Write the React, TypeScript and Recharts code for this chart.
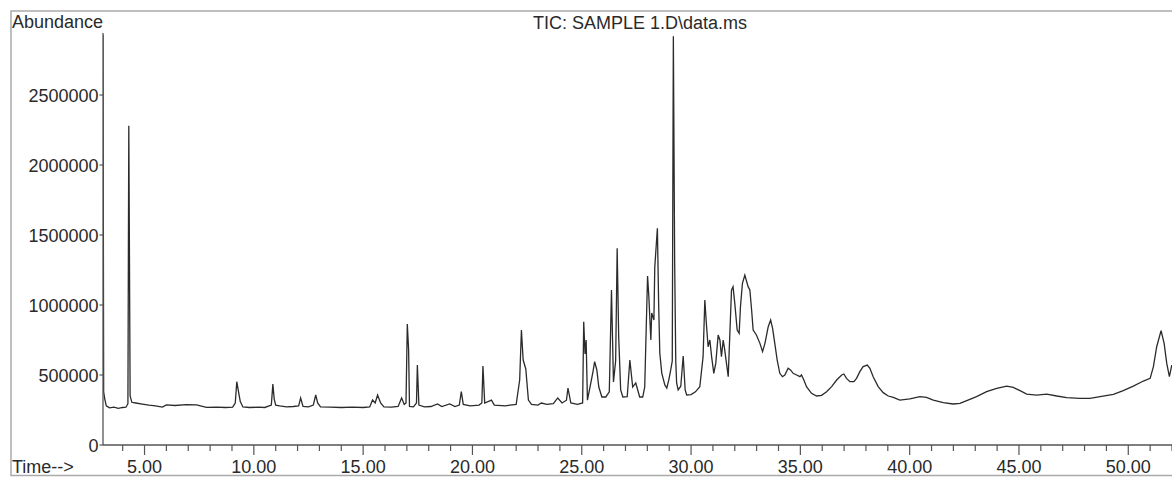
import React from "react";
import { LineChart, Line, XAxis, YAxis } from "recharts";

// Retention time (min)
const times: number[] = [
  3.1, 3.13, 3.18, 3.25, 3.4, 3.6, 3.8, 4.0, 4.15, 4.24, 4.28, 4.31, 4.34, 4.42, 4.6, 4.9,
  5.2, 5.5, 5.82, 6.0, 6.4, 6.9, 7.38, 7.6, 7.84, 8.3, 8.7, 9.03, 9.15, 9.22, 9.3, 9.38,
  9.5, 9.8, 10.2, 10.5, 10.8, 10.87, 10.93, 11.0, 11.18, 11.5, 11.8, 12.05, 12.14, 12.25,
  12.5, 12.72, 12.83, 12.92, 13.05, 13.5, 14.0, 14.5, 15.0, 15.3, 15.43, 15.55, 15.66, 15.8,
  15.95, 16.3, 16.6, 16.76, 16.88, 16.96, 17.02, 17.08, 17.12, 17.3, 17.44, 17.48, 17.55,
  17.8, 18.1, 18.4, 18.6, 18.96, 19.2, 19.4, 19.49, 19.58, 19.9, 20.3, 20.43, 20.48, 20.56,
  20.87, 21.0, 21.5, 22.0, 22.16, 22.24, 22.32, 22.44, 22.56, 22.7, 23.0, 23.15, 23.4, 23.7,
  23.9, 24.1, 24.3, 24.37, 24.5, 24.8, 25.04, 25.09, 25.15, 25.2, 25.26, 25.44, 25.52, 25.59,
  25.69, 25.78, 25.92, 26.1, 26.26, 26.36, 26.45, 26.55, 26.62, 26.69, 26.78, 26.88, 27.08,
  27.2, 27.33, 27.47, 27.65, 27.79, 27.88, 28.01, 28.07, 28.16, 28.2, 28.3, 28.34, 28.46,
  28.52, 28.57, 28.66, 28.8, 28.89, 28.98, 29.07, 29.14, 29.19, 29.25, 29.3, 29.34, 29.41,
  29.53, 29.64, 29.73, 29.8, 30.0, 30.2, 30.4, 30.55, 30.63, 30.71, 30.78, 30.86, 30.94,
  31.04, 31.13, 31.24, 31.32, 31.39, 31.47, 31.54, 31.62, 31.7, 31.85, 31.92, 32.0, 32.11,
  32.2, 32.26, 32.35, 32.46, 32.61, 32.69, 32.77, 32.84, 32.99, 33.15, 33.27, 33.38, 33.53,
  33.64, 33.73, 33.83, 33.94, 34.06, 34.18, 34.29, 34.44, 34.55, 34.67, 34.83, 34.98, 35.05,
  35.16, 35.28, 35.51, 35.74, 35.97, 36.2, 36.43, 36.66, 36.89, 36.99, 37.11, 37.27, 37.45,
  37.57, 37.72, 37.87, 38.06, 38.18, 38.33, 38.56, 38.79, 39.02, 39.25, 39.55, 40.01, 40.47,
  40.77, 41.08, 41.54, 41.99, 42.3, 42.61, 43.06, 43.52, 43.98, 44.44, 44.74, 45.05, 45.35,
  45.81, 46.27, 46.73, 47.18, 47.79, 48.25, 48.71, 49.32, 49.77, 50.23, 50.69, 51.0, 51.15,
  51.3, 51.5, 51.64, 51.76, 51.88, 51.99,
];

// Total ion current abundance
const abundance: number[] = [
  2930000, 380000, 330000, 280000, 265000, 270000, 262000, 268000, 270000, 295000, 2280000, 1350000, 350000, 305000, 300000, 292000,
  285000, 280000, 271000, 286000, 282000, 288000, 286000, 278000, 269000, 270000, 268000, 270000, 300000, 452000, 380000, 310000,
  272000, 268000, 270000, 268000, 285000, 436000, 330000, 285000, 279000, 272000, 275000, 280000, 336000, 275000,
  272000, 285000, 357000, 300000, 272000, 270000, 268000, 270000, 268000, 272000, 321000, 300000, 357000, 300000,
  272000, 270000, 275000, 336000, 290000, 300000, 864000, 678000, 275000, 272000, 300000, 571000, 285000,
  272000, 275000, 293000, 275000, 293000, 275000, 285000, 381000, 290000, 280000, 285000, 300000, 564000, 300000,
  321000, 285000, 280000, 290000, 464000, 821000, 607000, 543000, 321000, 290000, 285000, 300000, 290000, 295000,
  336000, 300000, 320000, 407000, 300000, 290000, 300000, 881000, 650000, 750000, 320000, 464000, 530000, 595000,
  536000, 414000, 343000, 343000, 380000, 1107000, 450000, 600000, 1405000, 771000, 393000, 343000, 345000,
  607000, 414000, 443000, 343000, 343000, 414000, 1207000, 1057000, 750000, 943000, 893000, 1270000, 1548000,
  986000, 657000, 514000, 429000, 407000, 464000, 536000, 600000, 2920000, 1300000, 600000, 443000, 393000,
  420000, 636000, 393000, 357000, 360000, 380000, 416000, 631000, 1036000, 845000, 702000, 750000, 631000,
  512000, 583000, 786000, 750000, 631000, 750000, 679000, 583000, 488000, 1107000, 1131000, 1012000, 821000,
  798000, 988000, 1155000, 1214000, 1131000, 1107000, 964000, 821000, 786000, 726000, 667000, 726000, 845000,
  893000, 833000, 726000, 607000, 512000, 488000, 500000, 548000, 536000, 512000, 500000, 488000, 500000,
  464000, 417000, 369000, 350000, 355000, 381000, 417000, 464000, 500000, 507000, 476000, 452000, 452000,
  476000, 524000, 560000, 571000, 548000, 488000, 417000, 374000, 350000, 340000, 321000, 329000, 345000,
  340000, 321000, 302000, 293000, 298000, 317000, 345000, 381000, 405000, 421000, 412000, 388000, 364000,
  357000, 364000, 350000, 338000, 333000, 333000, 345000, 362000, 388000, 421000, 457000, 476000, 560000,
  702000, 817000, 726000, 583000, 488000, 571000,
];

const xTicks: number[] = Array.from({ length: 49 }, (_, i) => i + 4);
const yTicks: number[] = [0, 500000, 1000000, 1500000, 2000000, 2500000];

const data = times.map((t, i) => ({ t, v: abundance[i] }));

const FONT = "'Liberation Sans', Arial, sans-serif";
const TXT = "#2a2a2a";
const AX = "#555";

const XTick = (props: any) => {
  const { x, y, payload } = props;
  const v = payload.value as number;
  const major = v % 5 === 0;
  return (
    <g>
      <line x1={x} x2={x} y1={y} y2={y + (major ? 10 : 6)} stroke={AX} strokeWidth={1.2} />
      {major && (
        <text x={x} y={y + 27.5} textAnchor="middle" fontFamily={FONT} fontSize={18} fill={TXT}>
          {v.toFixed(2)}
        </text>
      )}
    </g>
  );
};

const YTick = (props: any) => {
  const { x, y, payload } = props;
  return (
    <g>
      <line x1={x - 3.5} x2={x} y1={y} y2={y} stroke={AX} strokeWidth={1.2} />
      <text x={x - 4.5} y={y + 6.5} textAnchor="end" fontFamily={FONT} fontSize={18} fill={TXT}>
        {String(payload.value)}
      </text>
    </g>
  );
};

export default function App() {
  return (
    <div style={{ position: "fixed", left: 0, top: 0, width: 1172, height: 477, overflow: "hidden", background: "#fff" }}>
      <LineChart width={1172} height={477} data={data} margin={{ top: 33, right: 0, left: 0, bottom: 0 }}>
        <XAxis
          dataKey="t"
          type="number"
          domain={[3.1, 52.0]}
          allowDataOverflow
          ticks={xTicks}
          interval={0}
          height={32}
          tickSize={0}
          tickMargin={0}
          tickLine={false}
          axisLine={{ stroke: AX, strokeWidth: 1.3 }}
          tick={<XTick />}
        />
        <YAxis
          type="number"
          domain={[0, 2943000]}
          allowDataOverflow
          ticks={yTicks}
          interval={0}
          width={103}
          tickSize={0}
          tickMargin={0}
          tickLine={false}
          axisLine={{ stroke: AX, strokeWidth: 1.3 }}
          tick={<YTick />}
        />
        <Line
          dataKey="v"
          type="linear"
          stroke="#2b2b2b"
          strokeWidth={1.3}
          dot={false}
          isAnimationActive={false}
        />
      </LineChart>
      <svg
        width={1172}
        height={477}
        style={{ position: "absolute", left: 0, top: 0, pointerEvents: "none" }}
      >
        <rect x={11} y={11} width={1200} height={464.5} fill="none" stroke="#aaa" strokeWidth={1.5} />
        <text x={12} y={28} fontFamily={FONT} fontSize={18} fill={TXT}>
          Abundance
        </text>
        <text x={640} y={28.5} textAnchor="middle" fontFamily={FONT} fontSize={18} fill={TXT}>
          {"TIC: SAMPLE 1.D\\data.ms"}
        </text>
        <text x={12} y={472.5} fontFamily={FONT} fontSize={18} fill={TXT}>
          {"Time-->"}
        </text>
      </svg>
    </div>
  );
}
